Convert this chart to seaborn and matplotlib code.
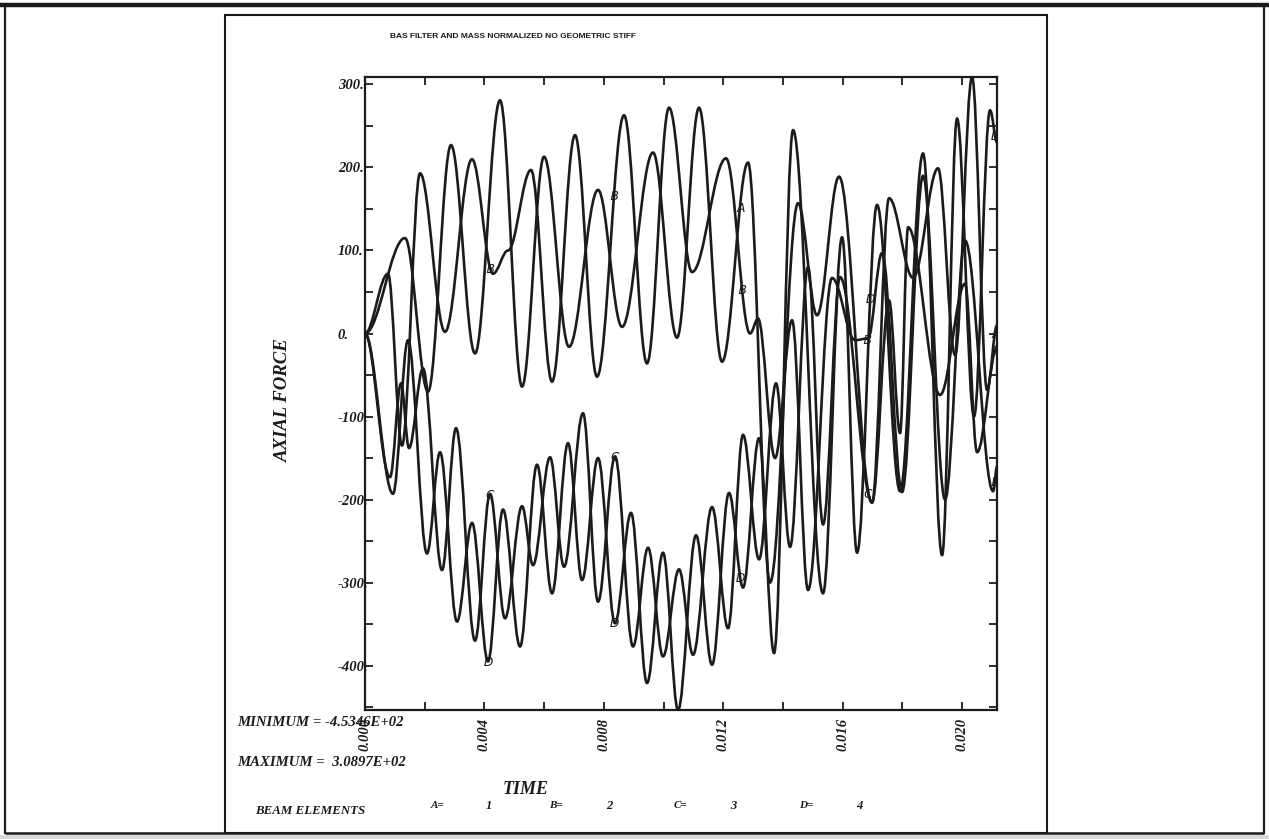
import numpy as np
import pandas as pd
import matplotlib
matplotlib.use("Agg")
import matplotlib.pyplot as plt
from matplotlib.path import Path
from matplotlib.patches import PathPatch, Rectangle
from matplotlib.lines import Line2D
from matplotlib.ticker import MultipleLocator, FuncFormatter
import seaborn as sns

sns.set_style("ticks")
plt.rcParams["font.family"] = ["Liberation Serif", "DejaVu Serif"]

# ---- axial force histories of beam elements 1-4 (time in ms, force) ----
# turning points of each response curve
a_t = [0, 1.340, 2.111, 2.881, 3.685, 4.523, 5.260, 5.997, 6.834, 7.806, 8.610,
       9.648, 10.452, 11.189, 11.960, 12.831, 13.568, 14.506, 15.142, 15.879,
       16.985, 17.554, 18.358, 19.196, 19.765, 20.335, 20.838, 21.173]
a_v = [0, 115, -70, 227, -24, 281, -64, 213, -16, 173, 8,
       218, -5, 272, -34, 206, -300, 157, 22, 189,
       -204, 163, 67, 199, -26, 308.97, -68, 10]

b_t = [0, 0.771, 1.240, 1.843, 2.680, 3.585, 4.288, 4.791, 5.561, 6.265, 7.035,
       7.772, 8.677, 9.447, 10.184, 10.955, 12.094, 12.898, 13.166, 13.735,
       14.305, 14.841, 15.645, 16.415, 16.851, 17.320, 17.990, 18.693, 19.430,
       20.101, 21.039, 21.173]
b_v = [0, 72, -135, 193, 2, 210, 72, 100, 197, -58, 239,
       -52, 263, -36, 272, 74, 211, 0, 18, -150,
       16, -309, 67, -8, -6, 97, -191, 190, -200,
       112, -190, -160]

c_t = [0, 0.838, 1.206, 1.474, 1.943, 2.580, 3.049, 3.685, 4.188, 4.690, 5.260,
       5.628, 6.198, 6.667, 7.303, 7.806, 8.375, 8.978, 9.481, 9.983, 10.519,
       10.988, 11.625, 12.161, 12.663, 13.199, 13.769, 14.238, 14.841, 15.343,
       15.913, 16.985, 17.554, 17.923, 18.191, 19.263, 20.101, 20.503, 21.173]
c_v = [0, -173, -60, -138, -42, -285, -114, -370, -193, -343, -208,
       -279, -149, -281, -96, -323, -148, -377, -258, -389, -284,
       -387, -209, -355, -122, -272, -60, -257, 80, -230,
       68, -203, 40, -120, 128, -74, 60, -143, -17]

d_t = [0, 0.938, 1.441, 2.077, 2.513, 3.082, 3.585, 4.121, 4.623, 5.193, 5.762,
       6.265, 6.801, 7.270, 7.806, 8.375, 8.911, 9.447, 9.983, 10.486, 11.089,
       11.625, 12.194, 12.663, 13.199, 13.702, 14.338, 15.343, 15.980, 16.482,
       17.152, 17.923, 18.693, 19.330, 19.832, 20.400, 20.938, 21.173]
d_v = [0, -193, -8, -265, -143, -347, -228, -395, -212, -377, -158,
       -313, -132, -297, -150, -349, -216, -421, -264, -453.46, -243,
       -399, -192, -306, -126, -385, 245, -313, 116, -264,
       155, -190, 217, -267, 259, -100, 269, 230]

# times (ms) at which each curve carries its identifying letter
lab_a_t = [12.56, 21.10]
lab_b_t = [4.19, 8.34, 12.63, 16.82, 21.10]
lab_c_t = [4.19, 8.37, 16.85, 21.13]
lab_d_t = [4.12, 8.34, 12.56, 16.92, 21.10]

y_ticks = [300, 200, 100, 0, -100, -200, -300, -400]
x_ticks = [0.000, 0.004, 0.008, 0.012, 0.016, 0.020]

series = {"A": (a_t, a_v, lab_a_t), "B": (b_t, b_v, lab_b_t),
          "C": (c_t, c_v, lab_c_t), "D": (d_t, d_v, lab_d_t)}

W, H = 1269, 839
fig = plt.figure(figsize=(W / 100, H / 100), dpi=100)
fig.patch.set_facecolor("white")


def fx(px):
    return px / W


def fy(py):
    return 1 - py / H


ink = "#1b1b1b"
ax = fig.add_axes([fx(365), fy(710), fx(997) - fx(365), fy(77) - fy(710)])
ax.set_facecolor("white")


def wave_path(t, v, c=0.36):
    """Smooth path through turning points with flat tangents at each one."""
    t = np.asarray(t) * 1e-3
    verts = [(t[0], v[0])]
    codes = [Path.MOVETO]
    for i in range(len(t) - 1):
        dt = t[i + 1] - t[i]
        verts += [(t[i] + c * dt, v[i]), (t[i + 1] - c * dt, v[i + 1]),
                  (t[i + 1], v[i + 1])]
        codes += [Path.CURVE4] * 3
    return Path(verts, codes)


rows = []
for name, (tt, vv, lt) in series.items():
    path = wave_path(tt, vv)
    ax.add_patch(PathPatch(path, fill=False, edgecolor=ink, lw=1.9,
                           joinstyle="round", capstyle="round", zorder=3))
    pts = np.vstack([seg(np.linspace(0, 1, 40))
                     for seg, code in path.iter_bezier() if code == Path.CURVE4])
    lt_s = np.asarray(lt) * 1e-3
    for t0, v0 in zip(lt_s, np.interp(lt_s, pts[:, 0], pts[:, 1])):
        rows.append({"series": name, "t": t0, "v": v0})

labels = pd.DataFrame(rows)
for name, grp in labels.groupby("series"):
    sns.scatterplot(data=grp, x="t", y="v", marker=f"${name}$", s=42,
                    color=ink, linewidth=0, legend=False, ax=ax, zorder=5)

ax.set_xlim(0, 0.02117)
ax.set_ylim(-453.46, 308.97)
ax.set_xlabel("")
ax.set_ylabel("")

ax.set_yticks(y_ticks)
ax.yaxis.set_minor_locator(MultipleLocator(50))
ax.yaxis.set_major_formatter(FuncFormatter(lambda v, p: f"{int(round(v))}."))
ax.set_xticks(x_ticks)
ax.xaxis.set_minor_locator(MultipleLocator(0.002))
ax.xaxis.set_major_formatter(FuncFormatter(lambda v, p: f"{v:.3f}"))

ax.tick_params(which="both", direction="in", length=6, width=1.3, color=ink,
               top=True, right=True, labeltop=False, labelright=False)
ax.tick_params(axis="y", pad=19.5)
ax.tick_params(axis="x", pad=6)
for lbl in ax.get_yticklabels():
    lbl.set_horizontalalignment("left")
    lbl.set_fontsize(10.5)
    lbl.set_fontweight("bold")
    lbl.set_fontstyle("italic")
    lbl.set_color(ink)
for lbl in ax.get_xticklabels():
    lbl.set_rotation(90)
    lbl.set_fontsize(10.5)
    lbl.set_fontweight("bold")
    lbl.set_fontstyle("italic")
    lbl.set_color(ink)
for sp in ax.spines.values():
    sp.set_visible(True)
    sp.set_linewidth(1.6)
    sp.set_color(ink)

txt = dict(fontweight="bold", fontstyle="italic", color=ink)
fig.text(fx(283), fy(400), "AXIAL FORCE", rotation=90, ha="center",
         va="center", fontsize=13.5, **txt)
fig.text(fx(526), fy(790), "TIME", ha="center", va="center", fontsize=13, **txt)

all_v = np.concatenate([a_v, b_v, c_v, d_v])
fig.text(fx(237), fy(722), f"MINIMUM = {all_v.min():.4E}", ha="left",
         va="center", fontsize=10.6, **txt)
fig.text(fx(237), fy(762), f"MAXIMUM =  {all_v.max():.4E}", ha="left",
         va="center", fontsize=10.6, **txt)
fig.text(fx(255), fy(811), "BEAM ELEMENTS", ha="left", va="center",
         fontsize=9.3, **txt)
legend_items = [("A=", 437, "1", 489), ("B=", 556, "2", 609),
                ("C=", 681, "3", 733), ("D=", 806, "4", 859)]
for key, kx, num, nx in legend_items:
    fig.text(fx(kx), fy(806), key, ha="center", va="center", fontsize=8, **txt)
    fig.text(fx(nx), fy(806), num, ha="center", va="center", fontsize=9, **txt)

fig.text(fx(513), fy(36), "BAS FILTER AND MASS NORMALIZED NO GEOMETRIC STIFF",
         ha="center", va="center", fontsize=6.0, fontweight="heavy",
         family="Liberation Sans", color=ink)

# page frame and inner sheet
frame = dict(color=ink, transform=fig.transFigure, solid_capstyle="butt")
fig.add_artist(Line2D([0, 1], [fy(5), fy(5)], lw=3.2, **frame))
fig.add_artist(Line2D([fx(5), fx(5)], [fy(5), fy(834)], lw=1.6, **frame))
fig.add_artist(Line2D([fx(1264), fx(1264)], [fy(5), fy(834)], lw=1.6, **frame))
fig.add_artist(Line2D([fx(5), fx(1264)], [fy(833), fy(833)], lw=1.8, **frame))
fig.add_artist(Rectangle((fx(225), fy(833)), fx(1047) - fx(225),
                         fy(15) - fy(833), fill=False, lw=1.5,
                         edgecolor=ink, transform=fig.transFigure))
fig.add_artist(Rectangle((0, 0), 1, fy(835), facecolor="#d9d9d9",
                         edgecolor="none", transform=fig.transFigure))

fig.savefig("out.png", dpi=100, facecolor="white")
